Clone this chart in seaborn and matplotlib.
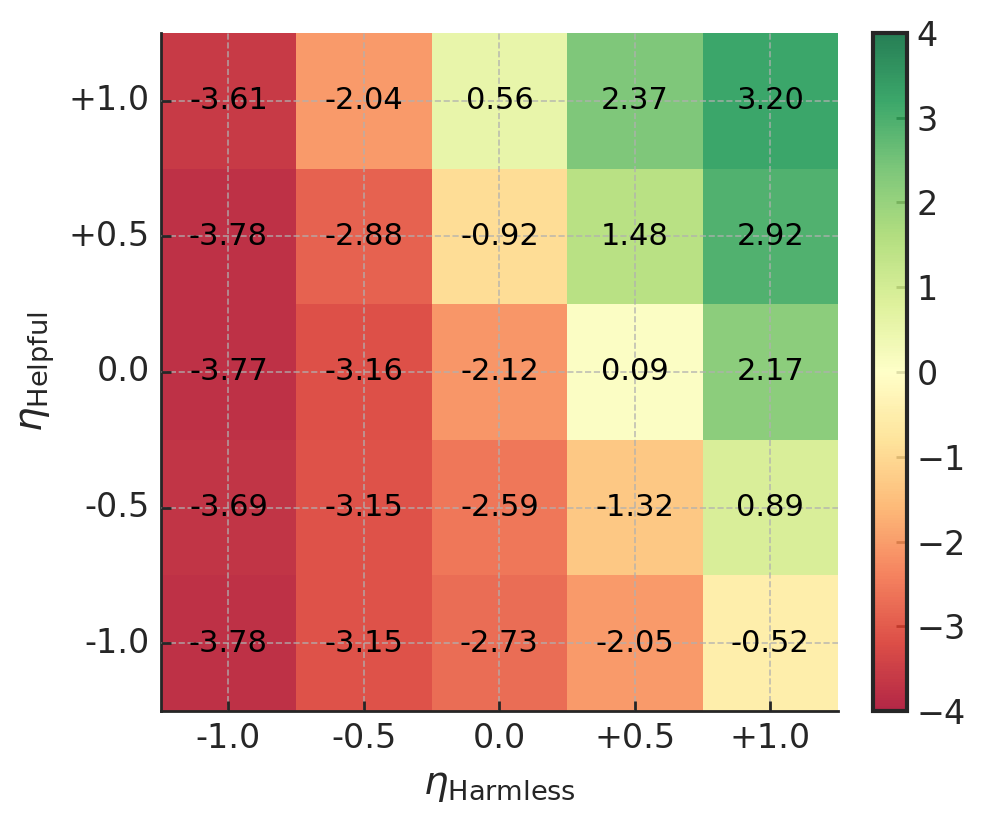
import matplotlib
matplotlib.use("Agg")
import matplotlib.pyplot as plt
import seaborn as sns
import numpy as np
import pandas as pd

harmless_labels = ["-1.0", "-0.5", "0.0", "+0.5", "+1.0"]
helpful_labels = ["+1.0", "+0.5", "0.0", "-0.5", "-1.0"]
row_p10 = [-3.61, -2.04, 0.56, 2.37, 3.20]
row_p05 = [-3.78, -2.88, -0.92, 1.48, 2.92]
row_000 = [-3.77, -3.16, -2.12, 0.09, 2.17]
row_m05 = [-3.69, -3.15, -2.59, -1.32, 0.89]
row_m10 = [-3.78, -3.15, -2.73, -2.05, -0.52]

df = pd.DataFrame([row_p10, row_p05, row_000, row_m05, row_m10],
                  index=helpful_labels, columns=harmless_labels)

sns.set_style("ticks")
plt.rcParams['font.family'] = ['DejaVu Sans']
plt.rcParams['text.color'] = '#262626'
plt.rcParams['axes.labelcolor'] = '#262626'
plt.rcParams['xtick.color'] = '#262626'
plt.rcParams['ytick.color'] = '#262626'

fig = plt.figure(figsize=(4.93, 4.115), dpi=200)
ax = fig.add_axes([0.163, 0.136, 0.687, 0.824])
cax = fig.add_axes([0.885, 0.136, 0.035, 0.824])

sns.heatmap(df, ax=ax, cbar_ax=cax, cmap="RdYlGn", vmin=-4, vmax=4, alpha=0.85,
            annot=True, fmt=".2f", annot_kws={"size": 11, "color": "black"},
            cbar_kws={"ticks": [-4, -3, -2, -1, 0, 1, 2, 3, 4]})

ax.grid(True, linestyle="--", color="#b0b0b0", linewidth=0.6, alpha=0.8)
ax.set_axisbelow(False)
for s in ["left", "bottom"]:
    ax.spines[s].set_visible(True)
    ax.spines[s].set_linewidth(1.0)
    ax.spines[s].set_color("#262626")
for s in ["top", "right"]:
    ax.spines[s].set_visible(False)
ax.tick_params(direction="in", length=3.5, width=1.0, labelsize=12, pad=4)
ax.set_yticklabels(helpful_labels, rotation=0)
ax.set_xticklabels(harmless_labels, rotation=0)
ax.set_xlabel(r"$\eta_{\mathrm{Harmless}}$", fontsize=14)
ax.set_ylabel(r"$\eta_{\mathrm{Helpful}}$", fontsize=14)

cb = ax.collections[0].colorbar
cb.outline.set_visible(True)
cb.outline.set_linewidth(1.5)
cb.outline.set_edgecolor("#262626")
cax.tick_params(direction="in", length=4, width=1.0, labelsize=12)

fig.savefig("out.png", dpi=200)
